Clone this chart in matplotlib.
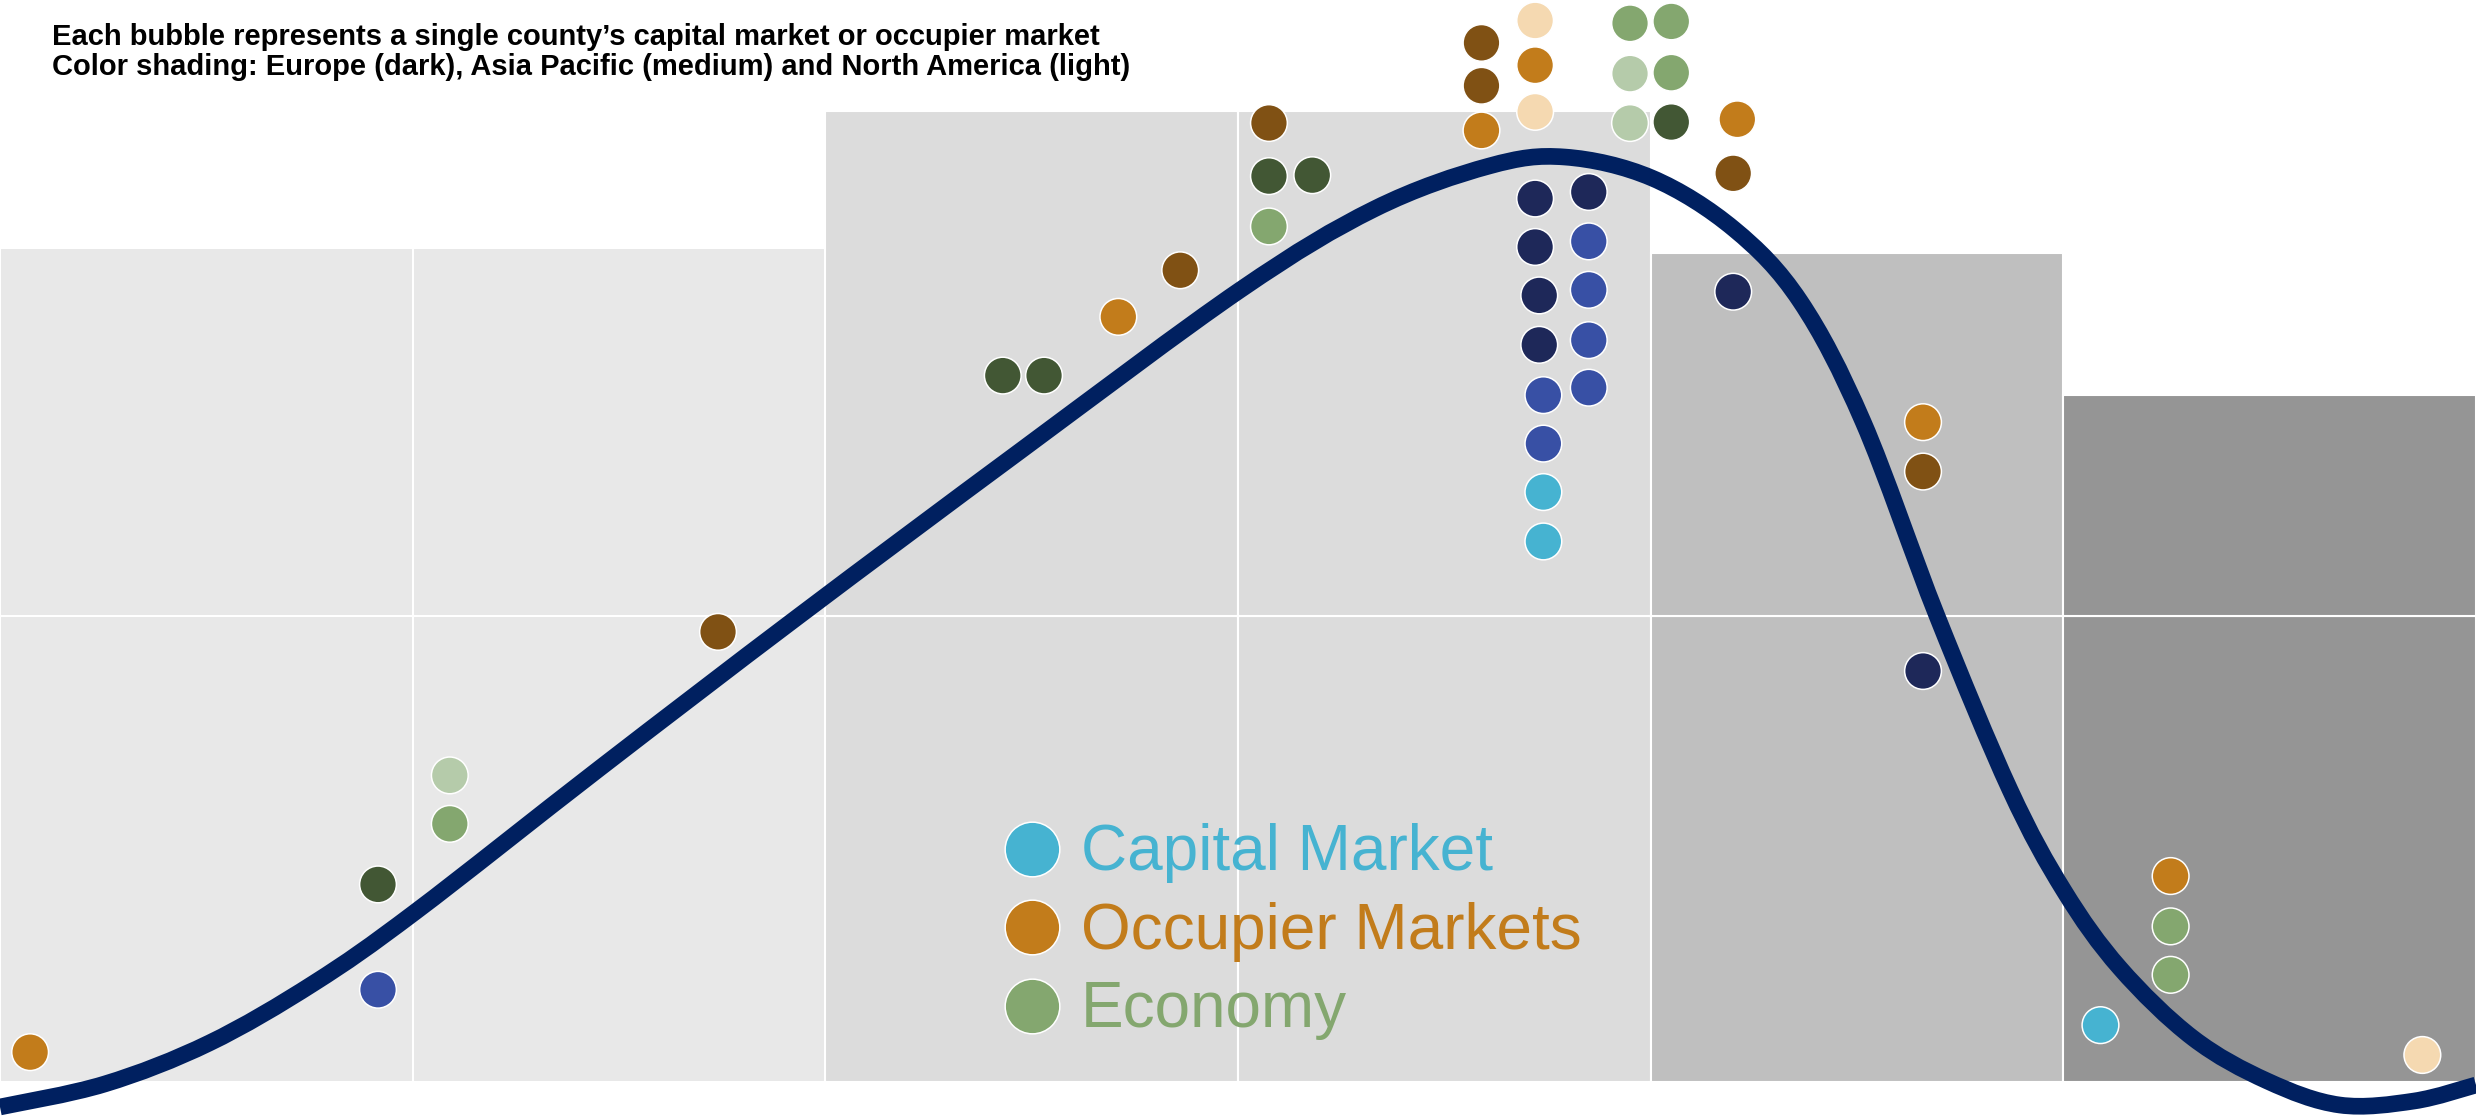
import matplotlib
matplotlib.use('Agg')
import matplotlib.pyplot as plt
from matplotlib.path import Path
from matplotlib.patches import PathPatch

plt.rcParams['font.family'] = ['Liberation Sans', 'DejaVu Sans']

# Cycle phases: six columns, 10 units wide, split at level 50
phase_top = [89.5, 89.5, 104.2, 104.2, 89.0, 73.7]
phase_colors = ['#E8E8E8', '#E8E8E8', '#DCDCDC', '#DCDCDC', '#BFBFBF', '#959595']
split_level = 50

# Cycle curve
curve_x = [0.0, 2.54, 5.07, 7.61, 10.06, 14.54, 19.36, 24.72, 30.05, 33.30,
           36.08, 37.92, 40.03, 42.02, 43.62, 45.15, 46.94, 48.71, 50.02, 51.37,
           53.14, 54.94, 56.70, 58.50, 60.0]
curve_y = [-2.68, -0.21, 4.18, 10.62, 18.24, 33.69, 50.0, 67.70, 84.98, 93.67,
           98.28, 99.25, 97.0, 91.52, 83.8, 70.82, 50.0, 31.33, 20.49, 12.23,
           4.72, 0.11, -2.47, -2.04, -0.32]

# Bubbles: E = Europe, AP = Asia Pacific, NA = North America
capital_x = [9.16, 37.2, 37.2, 37.3, 37.3, 37.4, 37.4, 37.4, 37.4,
             38.5, 38.5, 38.5, 38.5, 38.5, 42.0, 46.6, 50.9]
capital_y = [9.9, 94.8, 89.6, 84.4, 79.1, 73.7, 68.5, 63.3, 58.0,
             95.5, 90.2, 85.0, 79.6, 74.5, 84.8, 44.1, 6.1]
capital_region = ['AP', 'E', 'E', 'E', 'E', 'AP', 'AP', 'NA', 'NA',
                  'E', 'AP', 'AP', 'AP', 'AP', 'E', 'E', 'NA']

occupier_x = [0.73, 17.4, 27.1, 28.6, 30.75, 35.9, 35.9, 35.9, 37.2,
              37.2, 37.2, 42.1, 42.0, 46.6, 46.6, 52.6, 58.7]
occupier_y = [3.2, 48.3, 82.1, 87.1, 102.9, 111.5, 106.9, 102.1, 113.9,
              109.1, 104.1, 103.3, 97.5, 70.8, 65.5, 22.1, 2.9]
occupier_region = ['AP', 'E', 'AP', 'E', 'E', 'E', 'E', 'AP', 'NA',
                   'AP', 'NA', 'AP', 'E', 'AP', 'E', 'AP', 'NA']

economy_x = [9.16, 10.9, 10.9, 24.3, 25.3, 30.75, 31.8, 30.75,
             39.5, 40.5, 39.5, 40.5, 39.5, 40.5, 52.6, 52.6]
economy_y = [21.2, 32.9, 27.7, 75.8, 75.8, 97.2, 97.3, 91.8,
             113.6, 113.8, 108.2, 108.3, 102.9, 103.0, 16.7, 11.5]
economy_region = ['E', 'NA', 'AP', 'E', 'E', 'E', 'E', 'AP',
                  'AP', 'AP', 'NA', 'AP', 'NA', 'E', 'AP', 'AP']

legend_labels = ['Capital Market', 'Occupier Markets', 'Economy']

title_lines = ["Each bubble represents a single county\u2019s capital market or occupier market",
               "Color shading: Europe (dark), Asia Pacific (medium) and North America (light)"]

# Shades per series and region
shades = {
    'capital': {'E': '#1E2859', 'AP': '#3850A5', 'NA': '#46B3D1'},
    'occupier': {'E': '#805114', 'AP': '#C27C1B', 'NA': '#F5D9B1'},
    'economy': {'E': '#425734', 'AP': '#84A76F', 'NA': '#B5CBAA'},
}


def draw_phases(ax):
    centers = [5 + 10 * i for i in range(len(phase_top))]
    ax.bar(centers, [split_level] * len(centers), width=10, bottom=0,
           color=phase_colors, edgecolor='white', linewidth=1.5, zorder=1)
    ax.bar(centers, [t - split_level for t in phase_top], width=10, bottom=split_level,
           color=phase_colors, edgecolor='white', linewidth=1.5, zorder=1)


def smooth_path(xs, ys):
    # Smoothed line through the points (cubic Bezier segments, like a "smoothed" series)
    pts = list(zip(xs, ys))
    verts = [pts[0]]
    codes = [Path.MOVETO]
    n = len(pts)
    for i in range(n - 1):
        p0 = pts[max(i - 1, 0)]
        p1 = pts[i]
        p2 = pts[i + 1]
        p3 = pts[min(i + 2, n - 1)]
        c1 = (p1[0] + (p2[0] - p0[0]) / 6, p1[1] + (p2[1] - p0[1]) / 6)
        c2 = (p2[0] - (p3[0] - p1[0]) / 6, p2[1] - (p3[1] - p1[1]) / 6)
        verts += [c1, c2, p2]
        codes += [Path.CURVE4] * 3
    return Path(verts, codes)


def draw_bubbles(ax, xs, ys, regions, palette):
    colors = [palette[r] for r in regions]
    ax.scatter(xs, ys, s=700, c=colors, edgecolors='white', linewidths=1.1, zorder=4)


def main():
    fig = plt.figure(figsize=(24.76, 11.19), dpi=100)
    ax = fig.add_axes([0, 0, 1, 1])
    ax.set_xlim(0, 60)
    ax.set_ylim(-3.97, 116.1)
    ax.axis('off')

    draw_phases(ax)
    curve = PathPatch(smooth_path(curve_x, curve_y), facecolor='none', edgecolor='#002060',
                      linewidth=12, joinstyle='round', capstyle='butt', zorder=3)
    ax.add_patch(curve)

    draw_bubbles(ax, capital_x, capital_y, capital_region, shades['capital'])
    draw_bubbles(ax, occupier_x, occupier_y, occupier_region, shades['occupier'])
    draw_bubbles(ax, economy_x, economy_y, economy_region, shades['economy'])

    # Legend built by hand inside the chart
    legend_colors = [shades['capital']['NA'], shades['occupier']['AP'], shades['economy']['AP']]
    for i, (label, col) in enumerate(zip(legend_labels, legend_colors)):
        ly = 25.0 - 8.4 * i
        ax.scatter([25.0], [ly], s=1550, c=col, edgecolors='white', linewidths=1.1, zorder=4)
        ax.text(26.2, ly - 2.3, label, color=col, fontsize=46, va='baseline', ha='left', zorder=4)

    # Notes in the top left corner
    fig.text(0.021, 1 - 45 / 1119, title_lines[0], fontsize=21, fontweight='bold', va='baseline')
    fig.text(0.021, 1 - 75 / 1119, title_lines[1], fontsize=21, fontweight='bold', va='baseline')

    plt.savefig('out.png', dpi=100)


if __name__ == "__main__":
    main()
